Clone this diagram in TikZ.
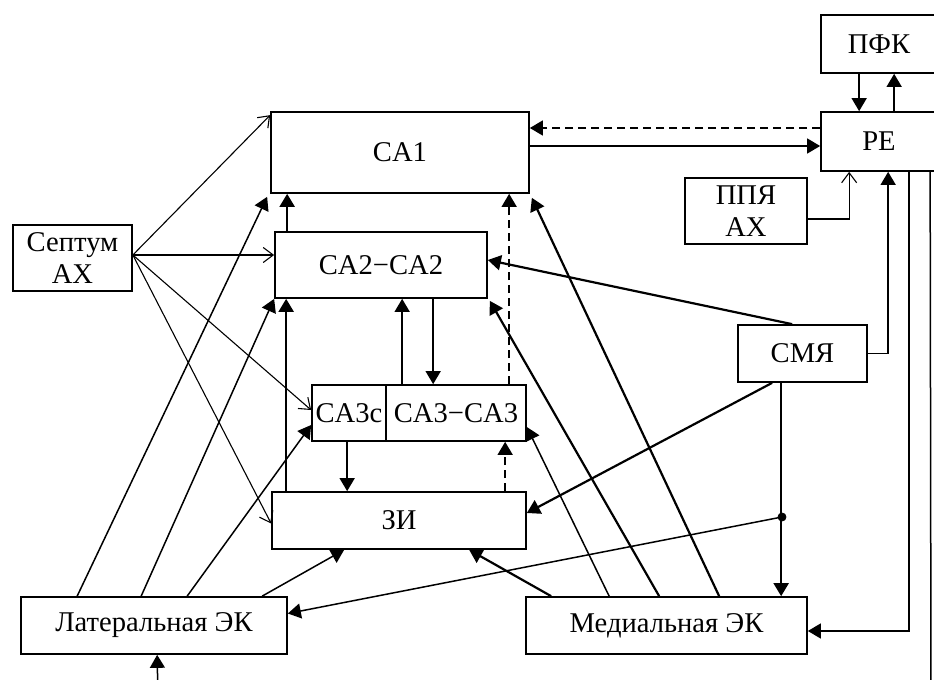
\documentclass[tikz,border=0pt]{standalone}
\usepackage{fontspec}
\setmainfont{Liberation Serif}
\usetikzlibrary{arrows.meta}

\begin{document}
\begin{tikzpicture}[x=0.5pt,y=-0.5pt,
    blok/.style={draw,line width=0.85pt,inner sep=0pt,align=center,
      font=\fontsize{14.3}{16}\selectfont},
    punta/.style={-{Triangle[length=6.5pt,width=7.5pt]}},
    fino/.style={line width=0.55pt,-{Straight Barb[length=5pt,width=7.5pt]}},
    medio/.style={line width=0.75pt,punta},
    grueso/.style={line width=1.1pt,punta},
    raya/.style={dash pattern=on 4pt off 2.5pt}]
  \useasboundingbox (0,0) rectangle (934,680);
  \clip (0,0) rectangle (934,680);

  % Cajas
  \node[blok,minimum width=129pt,minimum height=40.5pt] (ca1) at (400,152.5) {CA1};
  \node[blok,minimum width=106pt,minimum height=33pt] (ca2) at (381,265) {CA2−CA2};
  \node[blok,minimum width=37pt,minimum height=28pt] (ca3c) at (349,413) {CA3c};
  \node[blok,minimum width=70pt,minimum height=28pt] (ca3) at (456,413) {CA3−CA3};
  \node[blok,minimum width=127pt,minimum height=28.5pt] (zi) at (399,520.5) {ЗИ};
  \node[blok,minimum width=133pt,minimum height=28.5pt] (lat) at (154,625.5) {Латеральная ЭК};
  \node[blok,minimum width=140.5pt,minimum height=28.5pt] (med) at (666.5,625.5) {Медиальная ЭК};
  \node[blok,minimum width=59.5pt,minimum height=33pt] (septum) at (72.5,258) {Септум\\АХ};
  \node[blok,minimum width=64.5pt,minimum height=28.5pt] (smya) at (802.5,353.5) {СМЯ};
  \node[blok,minimum width=61pt,minimum height=33pt] (ppya) at (746,211) {ППЯ\\АХ};
  \node[blok,minimum width=58pt,minimum height=29.5pt] (re) at (879,141.5) {PE};
  \node[blok,minimum width=58pt,minimum height=29pt] (pfk) at (879,44) {ПФК};
  \coordinate (nudo) at (782,517);
  \coordinate (baj1) at (931,700);
  \coordinate (baj2) at (158,700);

  % Septum
  \coordinate (sx) at ([yshift=1.5pt]septum.east);
  \draw[fino] (sx) -- ([yshift=-2pt]ca1.north west);
  \draw[fino] (sx) -- ([yshift=5pt]ca2.west);
  \draw[fino] (sx) -- ([yshift=1.5pt]ca3c.west);
  \draw[fino] (sx) -- ([yshift=-1.5pt]zi.west);

  % Lateral'naya
  \draw[medio] ([xshift=28.5pt]lat.north west) -- ([xshift=-1.5pt,yshift=-1.5pt]ca1.south west);
  \draw[medio] ([xshift=60.5pt]lat.north west) -- (ca2.south west);
  \draw[medio] ([xshift=83.5pt]lat.north west) -- ([yshift=-6pt]ca3c.west);
  \draw[medio] ([xshift=121pt]lat.north west) -- ([xshift=36.5pt]zi.south west);
  \draw[medio] (baj2) -- ([xshift=68.5pt]lat.south west);

  % Medial'naya
  \draw[grueso] ([xshift=97pt]med.north west) -- ([xshift=1pt,yshift=-2pt]ca1.south east);
  \draw[grueso] ([xshift=67pt]med.north west) -- ([xshift=1pt,yshift=-1pt]ca2.south east);
  \draw[medio] ([xshift=42pt]med.north west) -- ([yshift=-7pt]ca3.east);
  \draw[grueso] ([xshift=13pt]med.north west) -- ([xshift=99pt]zi.south west);

  % Hipocampo
  \draw[grueso] ([xshift=6.5pt]ca2.north west) -- ([xshift=8.5pt]ca1.south west);
  \draw[grueso] ([xshift=7.5pt]zi.north west) -- ([xshift=6pt]ca2.south west);
  \draw[medio] ([xshift=8.5pt]ca3.north west) -- ([xshift=64pt]ca2.south west);
  \draw[medio] ([xshift=79.5pt]ca2.south west) -- ([xshift=24pt]ca3.north west);
  \draw[medio,raya] ([xshift=62pt]ca3.north west) -- ([xshift=119.5pt]ca1.south west);
  \draw[medio,raya] ([xshift=117pt]zi.north west) -- ([xshift=60pt]ca3.south west);
  \draw[medio] ([xshift=18pt]ca3c.south west) -- ([xshift=38pt]zi.north west);

  % SMYa
  \draw[grueso] ([xshift=22pt]smya.south west) -- ([xshift=128pt]med.north west);
  \filldraw (nudo) circle (2pt);
  \draw[medio] (nudo) -- ([yshift=6pt]lat.east);
  \draw[grueso] ([xshift=17.5pt]smya.south west) -- ([yshift=3.75pt]zi.east);
  \draw[grueso] ([xshift=27.5pt]smya.north west) -- ([yshift=2.5pt]ca2.east);
  \draw[medio] (smya.east) -| ([xshift=34pt]re.south west);

  % PE
  \draw[fino] ([yshift=-4pt]ppya.east) -| ([xshift=14.5pt]re.south west);
  \draw[medio] ([xshift=37pt]re.north west) -- ([xshift=37pt]pfk.south west);
  \draw[medio] ([xshift=19.5pt]pfk.south west) -- ([xshift=19.5pt]re.north west);
  \draw[medio] ([yshift=3.25pt]ca1.east) -- ([yshift=-2.25pt]re.west);
  \draw[medio,raya] ([yshift=6.75pt]re.west) -- ([yshift=12.25pt]ca1.east);
  \draw[medio] ([xshift=44.5pt]re.south west) |- ([yshift=-2.75pt]med.east);
  \draw[medio,-] ([xshift=55pt]re.south west) -- (baj1);
\end{tikzpicture}
\end{document}
